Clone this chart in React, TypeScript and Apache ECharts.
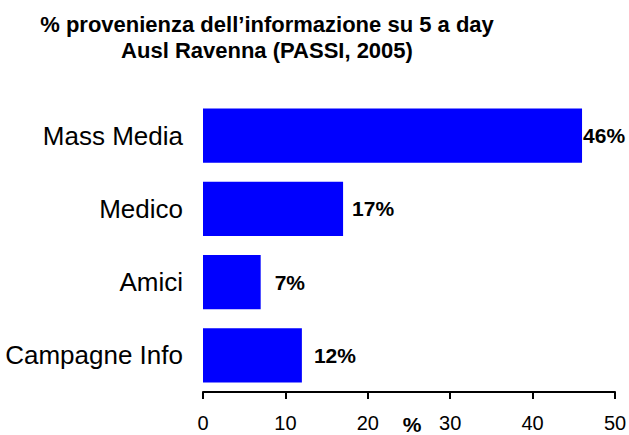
import React, { useEffect, useRef } from "react";
import * as echarts from "echarts";

const categories = ["Mass Media", "Medico", "Amici", "Campagne Info"];
const values = [46, 17, 7, 12];
const titleLines = ["% provenienza dell\u2019informazione su 5 a day", "Ausl Ravenna (PASSI, 2005)"];
const axisName = "%";

const FONT = "'Liberation Sans', Arial, Helvetica, sans-serif";
const labelGaps = [1, 9, 14, 12];

export default function App() {
  const ref = useRef<HTMLDivElement>(null);
  useEffect(() => {
    if (!ref.current) return;
    const chart = echarts.init(ref.current, null, { renderer: "svg" });
    // reverse so the first category is on top
    const cats = [...categories].reverse();
    const vals = [...values].reverse();
    const gaps = [...labelGaps].reverse();
    chart.setOption({
      animation: false,
      backgroundColor: "#ffffff",
      title: {
        text: titleLines.join("\n"),
        left: 262,
        top: 6,
        textAlign: "center",
        textStyle: {
          fontFamily: FONT,
          fontSize: 22,
          fontWeight: "bold",
          color: "#000",
          lineHeight: 26,
        },
      },
      grid: {
        left: 203,
        right: 14,
        top: 99,
        bottom: 43,
        containLabel: false,
        outerBoundsMode: "none",
      },
      xAxis: {
        type: "value",
        min: 0,
        max: 50,
        interval: 10,
        name: axisName,
        nameLocation: "middle",
        nameGap: 22,
        nameMoveOverlap: false,
        nameTextStyle: {
          fontFamily: FONT,
          fontSize: 21,
          fontWeight: "bold",
          color: "#000",
          verticalAlign: "top",
          padding: [0, 0, 0, 6],
        },
        axisLine: { show: true, lineStyle: { color: "#000", width: 2 } },
        axisTick: { show: true, length: 7, lineStyle: { color: "#000", width: 2 } },
        axisLabel: { fontFamily: FONT, fontSize: 20, color: "#000", margin: 21 },
        splitLine: { show: false },
      },
      yAxis: {
        type: "category",
        data: cats,
        axisLine: { show: false },
        axisTick: { show: false },
        axisLabel: { fontFamily: FONT, fontSize: 26, color: "#000", margin: 20 },
      },
      series: [
        {
          type: "bar",
          data: vals.map((v, i) => ({
            value: v,
            label: { distance: gaps[i] },
          })),
          barCategoryGap: "26%",
          itemStyle: { color: "#0000FF" },
          label: {
            show: true,
            position: "right",
            formatter: "{c}%",
            fontFamily: FONT,
            fontSize: 21,
            fontWeight: "bold",
            color: "#000",
          },
        },
      ],
    });
    return () => chart.dispose();
  }, []);
  return (
    <div
      ref={ref}
      style={{ position: "fixed", left: 0, top: 0, width: 629, height: 435, background: "#fff" }}
    />
  );
}
